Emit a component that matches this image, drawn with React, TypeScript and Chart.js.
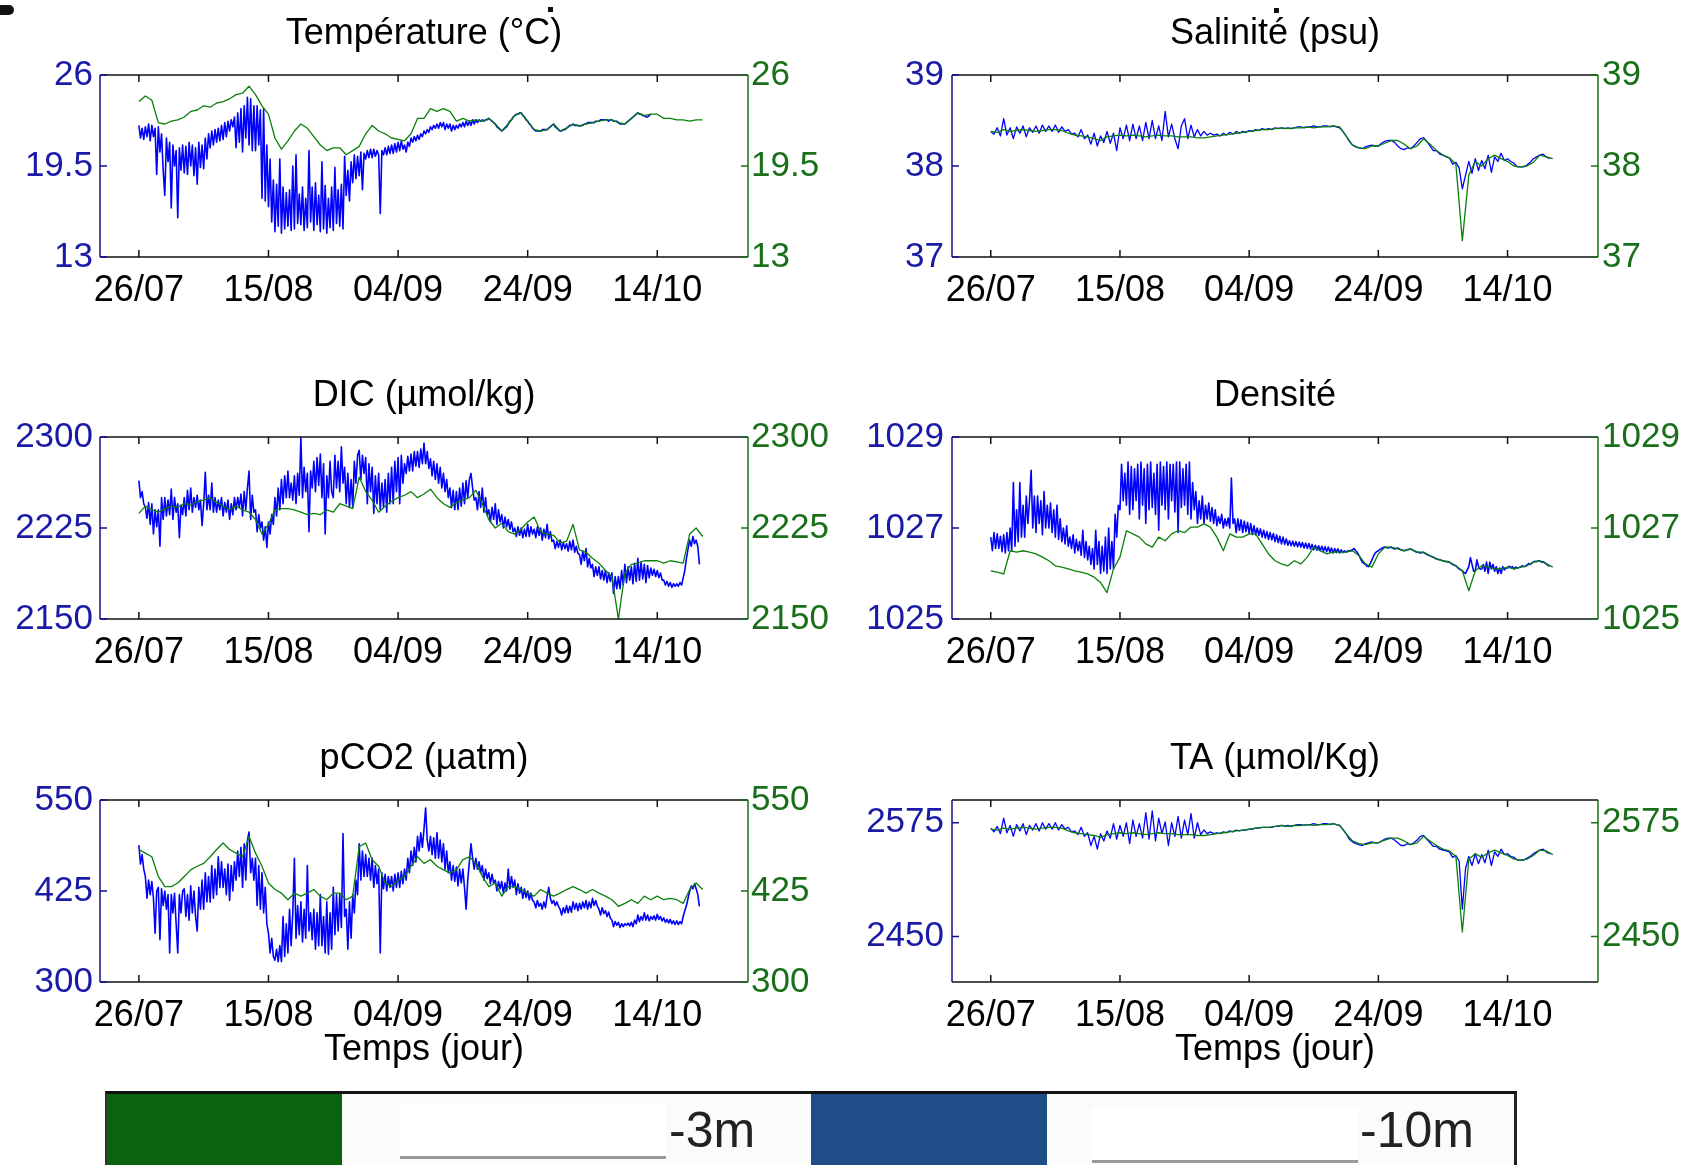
import React, { useEffect, useRef } from 'react';
import { Chart, registerables } from 'chart.js';

Chart.register(...registerables);

const FONT = "'Liberation Sans', Arial, Helvetica, sans-serif";
const BLUE_LINE = '#0000ff';
const GREEN_LINE = '#0a800a';
const BLUE_TEXT = '#1a1aa6';
const GREEN_TEXT = '#1a701a';

// time axis: days counted from 26/07
const DAY_STEP_FINE = 0.25;
const DAY_STEP_HALF = 0.5;
const DAY_STEP_3M = 1;
const X_MIN = -6;
const X_MAX = 94;
const X_TICK_DAYS = [0, 20, 40, 60, 80];
const X_TICK_LABELS = ['26/07', '15/08', '04/09', '24/09', '14/10'];

const TITLES = ['Température (°C)', 'Salinité (psu)', 'DIC (µmol/kg)', 'Densité', 'pCO2 (µatm)', 'TA (µmol/Kg)'];
const X_TITLE = 'Temps (jour)';
const LEGEND_LABELS = ['-3m', '-10m'];

const TEMP_TICKS = [13, 19.5, 26];
const SAL_TICKS = [37, 38, 39];
const DIC_TICKS = [2150, 2225, 2300];
const DENS_TICKS = [1025, 1027, 1029];
const PCO2_TICKS = [300, 425, 550];
const TA_TICKS = [2450, 2575];

const TEMP_RANGE = [13, 26];
const SAL_RANGE = [37, 39];
const DIC_RANGE = [2150, 2300];
const DENS_RANGE = [1025, 1029];
const PCO2_RANGE = [300, 550];
const TA_RANGE = [2400, 2600];

// ---- Température (-10m every 0.25 day, -3m every day) ----
const TEMP_10M = [
  22.4, 21.5, 22.2, 21.4, 22.3, 21.6, 22.5, 21.3, 22.4, 21.6, 22.2, 18.9,
  22.3, 20.5, 21.8, 19.2, 17.4, 21.5, 19.8, 21.2, 16.5, 21.0, 19.5, 20.6,
  15.8, 20.8, 19.2, 21.0, 19.0, 20.9, 18.9, 21.2, 19.5, 21.0, 18.8, 20.8,
  18.2, 21.2, 19.4, 21.0, 19.3, 21.5, 20.0, 21.8, 20.8, 22.0, 21.0, 22.1,
  21.2, 22.2, 21.3, 22.4, 21.4, 22.6, 21.6, 22.7, 22.0, 22.8, 22.3, 23.0,
  20.8, 23.3, 21.2, 23.6, 20.5, 23.8, 21.5, 24.4, 21.0, 24.3, 20.6, 23.8,
  20.6, 23.8, 21.0, 23.5, 17.2, 23.6, 17.0, 21.0, 16.6, 20.0, 15.5, 18.5,
  14.8, 18.2, 15.2, 20.0, 14.7, 18.0, 15.0, 17.6, 15.2, 17.8, 14.9, 19.5,
  15.0, 20.3, 15.4, 17.5, 15.3, 18.0, 14.9, 17.2, 15.1, 20.6, 15.5, 18.0,
  14.9, 18.3, 15.3, 17.4, 14.8, 19.8, 15.0, 18.1, 14.7, 17.2, 15.1, 18.0,
  14.9, 19.4, 15.4, 17.8, 15.2, 18.2, 15.0, 20.2, 17.4, 19.2, 17.0, 19.8,
  18.3, 20.3, 18.6, 20.2, 18.8, 20.5, 17.8, 20.4, 20.0, 20.6, 20.1, 20.7,
  20.1, 20.7, 20.2, 20.6, 20.3, 16.1, 20.6, 20.3, 20.8, 20.3, 20.9, 20.4,
  21.0, 20.4, 21.1, 20.5, 21.2, 20.6, 21.3, 20.7, 21.0, 20.5, 21.2, 20.9,
  21.5, 21.2, 21.6, 21.3, 21.7, 21.4, 21.8, 21.6, 22.0, 21.8, 22.1, 21.9,
  22.3, 22.1, 22.4, 22.2, 22.5, 22.2, 22.6, 22.3, 22.6, 22.1, 22.5, 22.2,
  22.5, 22.0, 22.4, 22.1, 22.4, 22.2, 22.5, 22.3, 22.6, 22.3, 22.7, 22.4,
  22.7, 22.4, 22.8, 22.5, 22.8, 22.6, 22.8, 22.7, 22.8, 22.7, 22.8, 22.8,
  22.9, 22.8, 22.7, 22.6, 22.5, 22.3, 22.2, 22.1, 22.0, 22.1, 22.2, 22.3,
  22.5, 22.7, 22.8, 23.0, 23.1, 23.2, 23.2, 23.3, 23.3, 23.1, 23.0, 22.8,
  22.7, 22.5, 22.4, 22.2, 22.1, 22.0, 22.0, 22.0, 22.0, 22.1, 22.1, 22.1,
  22.1, 22.2, 22.3, 22.4, 22.5, 22.3, 22.2, 22.1, 22.0, 22.0, 22.1, 22.1,
  22.2, 22.3, 22.4, 22.4, 22.5, 22.4, 22.4, 22.4, 22.35, 22.4, 22.4, 22.5,
  22.5, 22.6, 22.6, 22.6, 22.6, 22.6, 22.7, 22.7, 22.7, 22.8, 22.8, 22.8,
  22.8, 22.8, 22.7, 22.8, 22.8, 22.7, 22.7, 22.7, 22.6, 22.5, 22.5, 22.5,
  22.5, 22.6, 22.7, 22.8, 22.9, 23.0, 23.1, 23.2, 23.3, 23.2, 23.2, 23.1,
  23.1, 23.0, 23.0, 23.1, 23.2,
];
const TEMP_3M = [
  24.1, 24.5, 24.2, 22.6, 22.5, 22.7, 22.8, 23.0, 23.4, 23.5,
  23.8, 23.7, 24.0, 24.1, 24.3, 24.6, 24.7, 25.2, 24.6, 23.8,
  23.2, 21.5, 20.7, 21.3, 22.0, 22.5, 22.2, 21.6, 21.0, 20.6,
  20.8, 20.8, 20.3, 20.6, 20.9, 21.8, 22.4, 22.0, 21.8, 21.5,
  21.4, 21.3, 21.8, 22.9, 22.9, 23.6, 23.4, 23.6, 23.4, 22.7,
  22.9, 22.7, 22.8, 22.7, 22.9, 22.5, 22.0, 22.5, 23.1, 23.3,
  22.7, 22.1, 22.0, 22.1, 22.5, 22.0, 22.2, 22.5, 22.35, 22.5,
  22.6, 22.7, 22.8, 22.8, 22.6, 22.5, 22.9, 23.3, 23.1, 23.2,
  23.2, 22.9, 22.9, 22.8, 22.8, 22.7, 22.8, 22.8,
];

// ---- Salinité (-10m every 0.5 day) ----
const SAL_10M = [
  38.38, 38.35, 38.42, 38.33, 38.52, 38.34, 38.42, 38.30, 38.43, 38.36,
  38.44, 38.32, 38.42, 38.37, 38.44, 38.36, 38.45, 38.38, 38.44, 38.38,
  38.45, 38.37, 38.43, 38.38, 38.40, 38.35, 38.36, 38.32, 38.40, 38.30,
  38.34, 38.24, 38.36, 38.22, 38.33, 38.26, 38.38, 38.25, 38.36, 38.17,
  38.42, 38.30, 38.45, 38.28, 38.46, 38.30, 38.44, 38.28, 38.48, 38.30,
  38.50, 38.30, 38.44, 38.28, 38.60, 38.32, 38.46, 38.30, 38.19, 38.44,
  38.52, 38.30, 38.45, 38.32, 38.40, 38.33, 38.38, 38.34, 38.36, 38.34,
  38.35, 38.33, 38.36, 38.34, 38.37, 38.35, 38.38, 38.36, 38.38, 38.37,
  38.39, 38.38, 38.40, 38.39, 38.41, 38.40, 38.41, 38.40, 38.42, 38.41,
  38.42, 38.41, 38.42, 38.41, 38.42, 38.43, 38.43, 38.42, 38.43, 38.43,
  38.44, 38.43, 38.43, 38.44, 38.44, 38.43, 38.44, 38.43, 38.42, 38.38,
  38.33, 38.27, 38.23, 38.21, 38.20, 38.19, 38.21, 38.22, 38.23, 38.22,
  38.22, 38.25, 38.27, 38.28, 38.28, 38.26, 38.22, 38.19, 38.18, 38.20,
  38.19, 38.22, 38.26, 38.30, 38.31, 38.27, 38.22, 38.17, 38.17, 38.13,
  38.12, 38.10, 38.09, 38.02, 38.04, 37.98, 37.75, 37.90, 38.05, 37.92,
  38.08, 37.95, 38.06, 37.97, 38.12, 37.93, 38.10, 38.05, 38.14, 38.06,
  38.08, 38.05, 38.03, 37.99, 37.99, 37.99, 38.01, 38.04, 38.08, 38.10,
  38.12, 38.13, 38.10, 38.08,
];
const SAL_3M = [
  38.38, 38.37, 38.40, 38.38, 38.39, 38.40, 38.39, 38.38, 38.39, 38.40,
  38.40, 38.39, 38.36, 38.34, 38.33, 38.32, 38.30, 38.28, 38.32, 38.33,
  38.34, 38.33, 38.34, 38.33, 38.32, 38.33, 38.34, 38.33, 38.33, 38.32,
  38.32, 38.32, 38.31, 38.31, 38.32, 38.33, 38.34, 38.35, 38.36, 38.37,
  38.38, 38.39, 38.40, 38.40, 38.41, 38.42, 38.41, 38.42, 38.42, 38.43,
  38.42, 38.43, 38.43, 38.44, 38.43, 38.33, 38.23, 38.20, 38.19, 38.22,
  38.22, 38.25, 38.28, 38.28, 38.24, 38.19, 38.22, 38.30, 38.24, 38.17,
  38.12, 38.09, 38.02, 37.18, 37.90, 38.05, 38.00, 38.08, 38.12, 38.08,
  38.05, 38.00, 37.99, 38.00, 38.04, 38.12, 38.10, 38.08,
];

// ---- DIC (-10m every 0.25 day) ----
const DIC_10M = [
  2264, 2250, 2255, 2245, 2242, 2233, 2246, 2228, 2245, 2220, 2240, 2226,
  2240, 2210, 2250, 2232, 2250, 2235, 2248, 2236, 2257, 2232, 2250, 2238,
  2245, 2217, 2244, 2236, 2250, 2235, 2256, 2240, 2258, 2238, 2250, 2242,
  2252, 2240, 2248, 2227, 2245, 2271, 2240, 2252, 2240, 2262, 2238, 2250,
  2238, 2248, 2240, 2250, 2235, 2246, 2238, 2248, 2232, 2245, 2236, 2250,
  2240, 2250, 2242, 2253, 2235, 2255, 2240, 2258, 2272, 2232, 2252, 2238,
  2240, 2222, 2236, 2225, 2230, 2215, 2226, 2209, 2230, 2220, 2236, 2228,
  2250, 2235, 2258, 2240, 2265, 2245, 2268, 2250, 2272, 2250, 2262, 2248,
  2268, 2245, 2270, 2252, 2300, 2250, 2275, 2255, 2270, 2222, 2272, 2258,
  2280, 2255, 2283, 2260, 2286, 2250, 2278, 2220, 2268, 2250, 2280, 2255,
  2250, 2285, 2258, 2280, 2255, 2292, 2262, 2275, 2245, 2270, 2242, 2265,
  2242, 2280, 2262, 2285, 2289, 2265, 2285, 2270, 2283, 2245, 2278, 2255,
  2275, 2237, 2268, 2245, 2270, 2240, 2262, 2242, 2265, 2238, 2270, 2245,
  2275, 2245, 2280, 2255, 2283, 2245, 2285, 2262, 2278, 2270, 2284, 2272,
  2286, 2272, 2288, 2276, 2288, 2275, 2290, 2278, 2295, 2278, 2288, 2274,
  2282, 2268, 2280, 2265, 2278, 2262, 2275, 2258, 2270, 2255, 2265, 2250,
  2258, 2242, 2256, 2240, 2255, 2240, 2258, 2243, 2262, 2245, 2264, 2250,
  2265, 2270, 2258, 2248, 2250, 2240, 2255, 2242, 2258, 2238, 2250, 2236,
  2240, 2230, 2242, 2232, 2245, 2228, 2240, 2230, 2236, 2225, 2234, 2226,
  2232, 2224, 2230, 2222, 2225, 2218, 2226, 2219, 2225, 2217, 2224, 2218,
  2228, 2218, 2226, 2220, 2224, 2217, 2226, 2219, 2225, 2215, 2224, 2217,
  2228, 2216, 2222, 2214, 2215, 2208, 2214, 2209, 2215, 2207, 2213, 2208,
  2212, 2206, 2214, 2207, 2215, 2205, 2210, 2204, 2203, 2195, 2206, 2198,
  2208, 2193, 2200, 2192, 2195, 2185, 2193, 2186, 2193, 2183, 2190, 2182,
  2190, 2180, 2188, 2181, 2188, 2171, 2185, 2175, 2185, 2175, 2190, 2178,
  2195, 2180, 2193, 2182, 2193, 2179, 2196, 2181, 2200, 2182, 2197, 2183,
  2195, 2180, 2194, 2184, 2192, 2186, 2191, 2185, 2190, 2184, 2188, 2182,
  2182, 2178, 2181, 2177, 2180, 2176, 2179, 2177, 2179, 2177, 2180, 2178,
  2184, 2190, 2200, 2208, 2215, 2210, 2218, 2212, 2215, 2210, 2195,
];
const DIC_3M = [
  2237, 2243, 2240, 2238, 2241, 2243, 2242, 2245, 2244, 2247,
  2248, 2250, 2246, 2243, 2240, 2243, 2240, 2238, 2232, 2220,
  2228, 2240, 2241, 2241, 2240, 2238, 2236, 2237, 2236, 2240,
  2238, 2245, 2243, 2241, 2267, 2255, 2248, 2238, 2243, 2247,
  2250, 2252, 2255, 2250, 2253, 2257, 2250, 2245, 2242, 2246,
  2248, 2250, 2256, 2245, 2232, 2225, 2229, 2222, 2220, 2224,
  2230, 2234, 2222, 2220, 2219, 2213, 2214, 2228, 2207, 2205,
  2200, 2196, 2190, 2185, 2150, 2188, 2195, 2196, 2198, 2198,
  2198, 2196, 2198, 2197, 2196, 2220, 2225, 2218,
];

// ---- Densité (-10m every 0.25 day) ----
const DENS_10M = [
  1026.80, 1026.50, 1026.90, 1026.55, 1026.87, 1026.55, 1026.82, 1026.48,
  1026.85, 1026.45, 1026.90, 1026.50, 1027.00, 1026.50, 1028.00, 1026.60,
  1027.40, 1026.70, 1028.00, 1026.80, 1027.50, 1026.80, 1027.70, 1027.10,
  1027.60, 1028.27, 1027.00, 1027.70, 1026.90, 1027.70, 1027.10, 1027.60,
  1026.85, 1027.80, 1027.00, 1027.50, 1027.00, 1027.55, 1026.90, 1027.40,
  1026.80, 1027.50, 1026.75, 1027.20, 1026.70, 1027.00, 1026.65, 1027.05,
  1026.60, 1026.80, 1026.55, 1026.85, 1026.45, 1026.75, 1026.50, 1026.70,
  1026.40, 1026.95, 1026.35, 1026.70, 1026.30, 1026.60, 1026.20, 1026.55,
  1026.10, 1026.95, 1026.20, 1026.70, 1026.00, 1026.60, 1026.05, 1026.80,
  1026.00, 1027.00, 1026.10, 1026.70, 1026.10, 1027.30, 1026.80, 1027.50,
  1027.40, 1028.40, 1027.60, 1028.20, 1027.50, 1028.45, 1027.30, 1028.35,
  1027.40, 1028.30, 1027.60, 1028.40, 1027.20, 1028.45, 1027.50, 1028.30,
  1027.10, 1028.40, 1027.40, 1028.45, 1027.45, 1028.20, 1027.30, 1028.40,
  1026.95, 1028.45, 1027.50, 1028.35, 1027.40, 1028.45, 1027.20, 1028.40,
  1027.60, 1028.40, 1027.35, 1028.45, 1026.90, 1028.45, 1027.45, 1028.30,
  1027.50, 1028.40, 1027.30, 1028.45, 1027.20, 1028.00, 1027.40, 1027.80,
  1027.10, 1027.60, 1027.20, 1027.70, 1027.10, 1027.50, 1027.20, 1027.55,
  1027.15, 1027.45, 1027.10, 1027.40, 1027.05, 1027.25, 1027.10, 1027.30,
  1027.00, 1027.20, 1027.05, 1027.22, 1027.00, 1028.10, 1027.10, 1027.20,
  1026.90, 1027.20, 1026.95, 1027.18, 1026.90, 1027.15, 1026.92, 1027.12,
  1026.88, 1027.10, 1026.86, 1027.05, 1026.85, 1027.00, 1026.84, 1026.98,
  1026.80, 1026.95, 1026.78, 1026.92, 1026.75, 1026.90, 1026.74, 1026.88,
  1026.70, 1026.85, 1026.68, 1026.82, 1026.65, 1026.80, 1026.64, 1026.76,
  1026.62, 1026.72, 1026.61, 1026.71, 1026.60, 1026.70, 1026.59, 1026.69,
  1026.58, 1026.68, 1026.56, 1026.67, 1026.55, 1026.66, 1026.54, 1026.64,
  1026.52, 1026.62, 1026.51, 1026.61, 1026.50, 1026.60, 1026.49, 1026.59,
  1026.48, 1026.58, 1026.47, 1026.56, 1026.45, 1026.55, 1026.46, 1026.54,
  1026.45, 1026.52, 1026.46, 1026.50, 1026.47, 1026.50, 1026.49, 1026.51,
  1026.52, 1026.55, 1026.50, 1026.46, 1026.40, 1026.32, 1026.25, 1026.22,
  1026.20, 1026.16, 1026.15, 1026.22, 1026.30, 1026.38, 1026.45, 1026.48,
  1026.50, 1026.53, 1026.55, 1026.57, 1026.58, 1026.57, 1026.56, 1026.57,
  1026.58, 1026.56, 1026.54, 1026.55, 1026.56, 1026.54, 1026.52, 1026.51,
  1026.50, 1026.51, 1026.52, 1026.53, 1026.54, 1026.52, 1026.50, 1026.48,
  1026.47, 1026.46, 1026.45, 1026.46, 1026.46, 1026.44, 1026.42, 1026.40,
  1026.39, 1026.37, 1026.36, 1026.34, 1026.32, 1026.31, 1026.30, 1026.29,
  1026.28, 1026.27, 1026.26, 1026.26, 1026.25, 1026.22, 1026.20, 1026.18,
  1026.17, 1026.13, 1026.10, 1026.08, 1026.06, 1026.02, 1026.00, 1026.08,
  1026.15, 1026.35, 1026.20, 1026.05, 1026.05, 1026.30, 1026.15, 1026.10,
  1026.10, 1026.20, 1026.05, 1026.25, 1026.00, 1026.25, 1026.10, 1026.20,
  1026.05, 1026.15, 1026.00, 1026.12, 1026.00, 1026.15, 1026.08, 1026.12,
  1026.12, 1026.16, 1026.13, 1026.15, 1026.10, 1026.14, 1026.12, 1026.13,
  1026.14, 1026.17, 1026.15, 1026.16, 1026.18, 1026.22, 1026.20, 1026.23,
  1026.25, 1026.27, 1026.26, 1026.28, 1026.28, 1026.25, 1026.26, 1026.24,
  1026.21, 1026.18, 1026.16,
];
const DENS_3M = [
  1026.06, 1026.03, 1025.99, 1026.50, 1026.47, 1026.50, 1026.47, 1026.43, 1026.36, 1026.28,
  1026.17, 1026.14, 1026.10, 1026.06, 1026.03, 1025.99, 1025.92, 1025.80, 1025.58, 1026.10,
  1026.36, 1026.94, 1026.87, 1026.80, 1026.65, 1026.58, 1026.80, 1026.72, 1026.87, 1026.94,
  1026.90, 1027.02, 1027.02, 1027.09, 1027.02, 1026.80, 1026.50, 1026.87, 1026.80, 1026.80,
  1026.87, 1026.87, 1026.65, 1026.43, 1026.28, 1026.21, 1026.17, 1026.28, 1026.21, 1026.36,
  1026.58, 1026.50, 1026.43, 1026.47, 1026.47, 1026.47, 1026.50, 1026.39, 1026.21, 1026.14,
  1026.43, 1026.58, 1026.58, 1026.54, 1026.50, 1026.54, 1026.47, 1026.47, 1026.39, 1026.32,
  1026.28, 1026.25, 1026.17, 1026.06, 1025.62, 1026.06, 1026.17, 1026.14, 1026.10, 1026.10,
  1026.14, 1026.10, 1026.14, 1026.17, 1026.25, 1026.28, 1026.21, 1026.14,
];

// ---- pCO2 (-10m every 0.25 day) ----
const PCO2_10M = [
  488, 462, 475, 455, 445, 415, 440, 420, 438, 415, 367, 425,
  430, 358, 428, 405, 425, 400, 420, 340, 420, 395, 422, 380,
  340, 420, 395, 425, 428, 390, 420, 385, 432, 395, 425, 390,
  370, 430, 400, 440, 400, 450, 410, 445, 410, 460, 415, 455,
  420, 472, 430, 465, 430, 455, 420, 462, 412, 460, 425, 465,
  440, 480, 445, 485, 430, 490, 440, 495, 506, 450, 470, 440,
  470, 405, 460, 400, 450, 395, 430, 380, 367, 340, 360, 335,
  330, 345, 328, 350, 328, 390, 335, 380, 340, 400, 350, 395,
  470, 360, 405, 365, 410, 355, 400, 360, 460, 370, 395, 358,
  400, 345, 395, 350, 420, 350, 390, 340, 410, 338, 395, 345,
  430, 365, 420, 370, 420, 375, 504, 390, 400, 345, 410, 360,
  420, 395, 440, 420, 490, 440, 480, 445, 475, 445, 470, 440,
  470, 430, 460, 435, 455, 340, 450, 428, 448, 425, 445, 430,
  445, 425, 448, 430, 450, 430, 452, 435, 455, 440, 470, 450,
  480, 460, 485, 465, 500, 480, 505, 485, 510, 539, 495, 480,
  500, 475, 498, 470, 505, 470, 495, 465, 490, 455, 480, 450,
  465, 440, 460, 438, 458, 432, 455, 436, 455, 430, 400, 440,
  465, 490, 470, 455, 470, 455, 465, 450, 460, 440, 455, 442,
  450, 435, 448, 436, 440, 425, 438, 428, 438, 422, 436, 425,
  455, 428, 445, 430, 440, 420, 435, 422, 430, 415, 428, 416,
  425, 413, 422, 412, 410, 402, 412, 404, 408, 400, 410, 402,
  418, 430, 415, 408, 412, 405, 410, 404, 400, 392, 402, 395,
  405, 395, 404, 396, 410, 400, 408, 398, 408, 400, 410, 402,
  412, 400, 410, 402, 415, 405, 412, 404, 400, 392, 402, 394,
  398, 390, 396, 388, 385, 376, 383, 378, 382, 375, 380, 376,
  380, 378, 381, 377, 382, 376, 385, 380, 392, 383, 390, 385,
  395, 385, 392, 384, 390, 386, 391, 385, 393, 386, 390, 384,
  388, 382, 386, 381, 386, 380, 384, 379, 384, 379, 383, 380,
  390, 398, 405, 415, 425, 432, 428, 435, 428, 420, 404,
];
const PCO2_3M = [
  482, 477, 472, 445, 431, 431, 436, 445, 454, 459,
  463, 472, 482, 491, 482, 477, 472, 500, 477, 459,
  436, 427, 422, 413, 422, 418, 422, 427, 418, 413,
  422, 422, 413, 418, 486, 491, 468, 459, 436, 431,
  440, 445, 459, 472, 463, 468, 459, 454, 450, 454,
  468, 472, 463, 445, 431, 436, 418, 431, 431, 427,
  422, 418, 427, 422, 418, 422, 427, 431, 427, 422,
  427, 422, 418, 413, 404, 408, 413, 408, 418, 413,
  418, 413, 415, 413, 408, 427, 436, 427,
];

// ---- TA (-10m every 0.5 day) ----
const TA_10M = [
  2569, 2565, 2571, 2563, 2580, 2564, 2572, 2560, 2573, 2566,
  2574, 2562, 2572, 2567, 2574, 2566, 2575, 2568, 2574, 2568,
  2575, 2567, 2573, 2568, 2570, 2565, 2566, 2562, 2570, 2560,
  2564, 2550, 2560, 2546, 2563, 2555, 2566, 2558, 2574, 2557,
  2572, 2560, 2575, 2552, 2578, 2560, 2574, 2558, 2586, 2557,
  2588, 2555, 2580, 2563, 2576, 2550, 2575, 2560, 2582, 2558,
  2578, 2562, 2585, 2558, 2575, 2562, 2567, 2563, 2565, 2563,
  2564, 2563, 2565, 2564, 2566, 2565, 2567, 2566, 2567, 2567,
  2568, 2568, 2569, 2569, 2570, 2570, 2570, 2570, 2571, 2571,
  2572, 2571, 2572, 2571, 2572, 2573, 2573, 2572, 2573, 2573,
  2574, 2573, 2573, 2574, 2574, 2573, 2574, 2573, 2572, 2568,
  2563, 2557, 2554, 2552, 2551, 2550, 2552, 2553, 2554, 2553,
  2553, 2555, 2557, 2558, 2558, 2556, 2553, 2550, 2550, 2552,
  2551, 2553, 2556, 2560, 2561, 2557, 2553, 2549, 2549, 2546,
  2545, 2544, 2543, 2537, 2539, 2533, 2480, 2525, 2538, 2528,
  2541, 2530, 2540, 2531, 2545, 2528, 2543, 2538, 2546, 2540,
  2541, 2538, 2537, 2534, 2534, 2534, 2536, 2538, 2541, 2543,
  2545, 2546, 2543, 2541,
];
const TA_3M = [
  2568, 2567, 2569, 2568, 2569, 2570, 2569, 2568, 2569, 2570,
  2570, 2569, 2566, 2564, 2563, 2562, 2561, 2559, 2562, 2563,
  2564, 2563, 2564, 2563, 2562, 2563, 2564, 2563, 2563, 2562,
  2562, 2562, 2561, 2561, 2562, 2563, 2564, 2565, 2566, 2567,
  2568, 2569, 2570, 2570, 2571, 2572, 2571, 2572, 2572, 2573,
  2572, 2573, 2573, 2574, 2572, 2563, 2555, 2552, 2551, 2553,
  2553, 2556, 2558, 2558, 2555, 2551, 2553, 2560, 2555, 2550,
  2546, 2544, 2538, 2455, 2535, 2541, 2537, 2542, 2545, 2542,
  2539, 2535, 2534, 2535, 2539, 2545, 2544, 2540,
];

// ---- layout (page pixels) ----
const COL_LEFT = [0, 842];
const COL_WIDTH = 842;
const COL_AXIS_L = [100, 110];
const COL_AXIS_R = [94, 86];
const ROW_TOP = [0, 362, 725];
const ROW_HEIGHT = [330, 330, 375];
const ROW_AXIS_X = [73, 73, 118];

type PanelCfg = {
  title: string; col: number; row: number; range: number[]; ticks: number[];
  blue: number[]; blueStep: number; green: number[]; xTitle: boolean;
};

const PANELS: PanelCfg[] = [
  { title: TITLES[0], col: 0, row: 0, range: TEMP_RANGE, ticks: TEMP_TICKS, blue: TEMP_10M, blueStep: DAY_STEP_FINE, green: TEMP_3M, xTitle: false },
  { title: TITLES[1], col: 1, row: 0, range: SAL_RANGE, ticks: SAL_TICKS, blue: SAL_10M, blueStep: DAY_STEP_HALF, green: SAL_3M, xTitle: false },
  { title: TITLES[2], col: 0, row: 1, range: DIC_RANGE, ticks: DIC_TICKS, blue: DIC_10M, blueStep: DAY_STEP_FINE, green: DIC_3M, xTitle: false },
  { title: TITLES[3], col: 1, row: 1, range: DENS_RANGE, ticks: DENS_TICKS, blue: DENS_10M, blueStep: DAY_STEP_FINE, green: DENS_3M, xTitle: false },
  { title: TITLES[4], col: 0, row: 2, range: PCO2_RANGE, ticks: PCO2_TICKS, blue: PCO2_10M, blueStep: DAY_STEP_FINE, green: PCO2_3M, xTitle: true },
  { title: TITLES[5], col: 1, row: 2, range: TA_RANGE, ticks: TA_TICKS, blue: TA_10M, blueStep: DAY_STEP_HALF, green: TA_3M, xTitle: true },
];

const framePlugin = {
  id: 'matlabFrame',
  afterDatasetsDraw(chart: any) {
    const { ctx, chartArea, scales } = chart;
    const { left, right, top, bottom } = chartArea;
    const TL = 7;
    const seg = (x1: number, y1: number, x2: number, y2: number) => {
      ctx.beginPath(); ctx.moveTo(x1, y1); ctx.lineTo(x2, y2); ctx.stroke();
    };
    ctx.save();
    ctx.lineWidth = 1.5;
    ctx.strokeStyle = '#111';
    seg(left, top, right, top);
    seg(left, bottom, right, bottom);
    scales.x.ticks.forEach((t: any) => {
      const px = scales.x.getPixelForValue(t.value);
      seg(px, bottom, px, bottom - TL);
      seg(px, top, px, top + TL);
    });
    ctx.strokeStyle = '#12128a';
    seg(left, top, left, bottom);
    scales.y.ticks.forEach((t: any) => {
      const py = scales.y.getPixelForValue(t.value);
      seg(left, py, left + TL, py);
    });
    ctx.strokeStyle = '#167016';
    seg(right, top, right, bottom);
    scales.y2.ticks.forEach((t: any) => {
      const py = scales.y2.getPixelForValue(t.value);
      seg(right, py, right - TL, py);
    });
    ctx.restore();
  },
};

function Panel({ cfg }: { cfg: PanelCfg }) {
  const ref = useRef<HTMLCanvasElement>(null);
  const h = ROW_HEIGHT[cfg.row];
  useEffect(() => {
    if (!ref.current) return;
    const wl = COL_AXIS_L[cfg.col];
    const wr = COL_AXIS_R[cfg.col];
    const hx = ROW_AXIS_X[cfg.row];
    const yTickFont = { size: 35, family: FONT };
    const chart = new Chart(ref.current, {
      type: 'line',
      data: {
        datasets: [
          {
            label: LEGEND_LABELS[0],
            data: cfg.green.map((v, i) => ({ x: i * DAY_STEP_3M, y: v })),
            borderColor: GREEN_LINE,
            borderWidth: 1.3,
            borderJoinStyle: 'round',
            pointRadius: 0,
            tension: 0,
            yAxisID: 'y2',
          },
          {
            label: LEGEND_LABELS[1],
            data: cfg.blue.map((v, i) => ({ x: i * cfg.blueStep, y: v })),
            borderColor: BLUE_LINE,
            borderWidth: cfg.blueStep === DAY_STEP_FINE ? 1.6 : 1.3,
            borderJoinStyle: 'round',
            pointRadius: 0,
            tension: 0,
            yAxisID: 'y',
          },
        ],
      },
      options: {
        animation: false,
        responsive: false,
        maintainAspectRatio: false,
        events: [],
        layout: { padding: 0 },
        plugins: {
          legend: { display: false },
          tooltip: { enabled: false },
          title: {
            display: true,
            text: cfg.title,
            fullSize: false,
            color: '#000',
            font: { size: 36, family: FONT, weight: 'normal', lineHeight: 1.2 },
            padding: { top: 12, bottom: 19.8 },
          },
        },
        scales: {
          x: {
            type: 'linear',
            min: X_MIN,
            max: X_MAX,
            grid: { display: false, drawTicks: false },
            border: { display: false },
            afterBuildTicks: (s: any) => { s.ticks = X_TICK_DAYS.map((v) => ({ value: v })); },
            afterFit: (s: any) => { s.height = hx; },
            ticks: {
              autoSkip: false,
              maxRotation: 0,
              padding: 12,
              color: '#000',
              font: { size: 36, family: FONT },
              callback: (_v: any, i: number) => X_TICK_LABELS[i],
            },
            title: {
              display: cfg.xTitle,
              text: X_TITLE,
              color: '#000',
              font: { size: 36, family: FONT, lineHeight: 1.2 },
              padding: { top: 0, bottom: 28 },
            },
          },
          y: {
            type: 'linear',
            position: 'left',
            min: cfg.range[0],
            max: cfg.range[1],
            grid: { display: false, drawTicks: false },
            border: { display: false },
            afterBuildTicks: (s: any) => { s.ticks = cfg.ticks.map((v) => ({ value: v })); },
            afterFit: (s: any) => { s.width = wl; },
            ticks: { padding: cfg.col === 0 ? 7 : 8, color: BLUE_TEXT, font: yTickFont, callback: (v: any) => String(v) },
          },
          y2: {
            type: 'linear',
            position: 'right',
            min: cfg.range[0],
            max: cfg.range[1],
            grid: { display: false, drawTicks: false },
            border: { display: false },
            afterBuildTicks: (s: any) => { s.ticks = cfg.ticks.map((v) => ({ value: v })); },
            afterFit: (s: any) => { s.width = wr; },
            ticks: { padding: cfg.col === 0 ? 3 : 4, color: GREEN_TEXT, font: yTickFont, callback: (v: any) => String(v) },
          },
        },
      } as any,
      plugins: [framePlugin],
    });
    return () => chart.destroy();
  }, [cfg]);
  return (
    <canvas
      ref={ref}
      width={COL_WIDTH}
      height={h}
      style={{ position: 'absolute', left: COL_LEFT[cfg.col], top: ROW_TOP[cfg.row], width: COL_WIDTH, height: h }}
    />
  );
}

function Legend() {
  const txt: React.CSSProperties = {
    position: 'absolute', fontFamily: FONT, fontSize: 50, lineHeight: '50px', color: '#222', whiteSpace: 'nowrap',
  };
  return (
    <>
      <div style={{ position: 'absolute', left: 105, top: 1091, width: 1412, height: 90, boxSizing: 'border-box',
        borderTop: '3px solid #111', borderLeft: '2px solid #333', borderRight: '3px solid #222', background: '#fbfbfb' }} />
      <div style={{ position: 'absolute', left: 107, top: 1094, width: 235, height: 80, background: '#0b640d' }} />
      <div style={{ position: 'absolute', left: 400, top: 1104, width: 266, height: 52, background: '#fff', borderBottom: '3px solid #9a9a9a' }} />
      <div style={{ ...txt, left: 669, top: 1105 }}>{LEGEND_LABELS[0]}</div>
      <div style={{ position: 'absolute', left: 811, top: 1094, width: 236, height: 80, background: '#1f4d88' }} />
      <div style={{ position: 'absolute', left: 1092, top: 1108, width: 266, height: 52, background: '#fff', borderBottom: '3px solid #9a9a9a' }} />
      <div style={{ ...txt, left: 1360, top: 1105 }}>{LEGEND_LABELS[1]}</div>
    </>
  );
}

export default function App() {
  return (
    <div style={{ position: 'absolute', left: 0, top: 0, width: 1684, height: 1165, overflow: 'hidden', background: '#fff' }}>
      <div style={{ position: 'absolute', left: 0, top: 5, width: 14, height: 10, background: '#111', borderRadius: '0 5px 5px 0' }} />
      <div style={{ position: 'absolute', left: 548, top: 7, width: 5, height: 5, background: '#111' }} />
      <div style={{ position: 'absolute', left: 1274, top: 8, width: 5, height: 5, background: '#111' }} />
      {PANELS.map((p, i) => <Panel key={i} cfg={p} />)}
      <Legend />
    </div>
  );
}
